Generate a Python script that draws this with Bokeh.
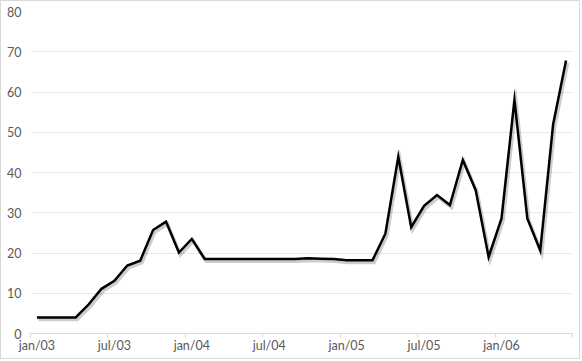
from bokeh.plotting import figure
from bokeh.models import ColumnDataSource, FixedTicker, LinearAxis, Range1d
from bokeh.embed import file_html
from bokeh.resources import INLINE

months = [
    "jan/03", "fev/03", "mar/03", "abr/03", "mai/03", "jun/03",
    "jul/03", "ago/03", "set/03", "out/03", "nov/03", "dez/03",
    "jan/04", "fev/04", "mar/04", "abr/04", "mai/04", "jun/04",
    "jul/04", "ago/04", "set/04", "out/04", "nov/04", "dez/04",
    "jan/05", "fev/05", "mar/05", "abr/05", "mai/05", "jun/05",
    "jul/05", "ago/05", "set/05", "out/05", "nov/05", "dez/05",
    "jan/06", "fev/06", "mar/06", "abr/06", "mai/06", "jun/06",
]
values = [
    4.0, 4.0, 4.0, 4.0, 7.2, 11.1,
    13.1, 16.9, 18.1, 25.7, 27.8, 20.1,
    23.5, 18.5, 18.5, 18.5, 18.5, 18.5,
    18.5, 18.5, 18.5, 18.7, 18.6, 18.5,
    18.2, 18.2, 18.2, 24.8, 43.9, 26.4,
    31.7, 34.4, 31.9, 43.1, 35.6, 19.0,
    28.6, 58.0, 28.6, 20.6, 52.0, 67.8,
]
y_ticks = [0, 10, 20, 30, 40, 50, 60, 70, 80]
label_every = 6

n = len(months)
idx = list(range(n))
src = ColumnDataSource(data=dict(x=idx, y=values,
                                 xs=[i + 0.12 for i in idx],
                                 ys=[v - 0.55 for v in values]))

p = figure(width=580, height=359, output_backend="svg", toolbar_location=None,
           x_range=Range1d(-0.5, n - 0.5), y_range=Range1d(0, 80),
           x_axis_location=None, y_axis_location="left",
           min_border_left=29, min_border_right=9, min_border_top=10, min_border_bottom=27)
p.styles = {"border": "1px solid #d9d9d9"}
p.outline_line_color = None
p.background_fill_color = "white"
p.border_fill_color = "white"

# y axis
p.yaxis.ticker = FixedTicker(ticks=y_ticks)
p.yaxis.axis_line_color = None
p.yaxis.major_tick_line_color = None
p.yaxis.minor_tick_line_color = None
p.yaxis.major_tick_out = 0
p.yaxis.major_tick_in = 0
p.yaxis.major_label_standoff = 9
p.yaxis.major_label_text_font = "Lato"
p.yaxis.major_label_text_font_size = "12.5px"
p.yaxis.major_label_text_color = "#595959"

p.ygrid.ticker = FixedTicker(ticks=y_ticks)
p.ygrid.grid_line_color = "#e8e8e8"
p.ygrid.grid_line_width = 1
p.xgrid.grid_line_color = None

# x axis with tick marks at month boundaries (no labels)
bounds = [i - 0.5 for i in range(0, n, label_every)] + [n - 0.5]
ax_ticks = LinearAxis(ticker=FixedTicker(ticks=bounds),
                      major_label_overrides={b: "" for b in bounds})
ax_ticks.axis_line_color = "#d9d9d9"
ax_ticks.major_tick_line_color = "#d9d9d9"
ax_ticks.major_tick_out = 4
ax_ticks.major_tick_in = 0
ax_ticks.minor_tick_line_color = None
ax_ticks.major_label_standoff = 0
p.add_layout(ax_ticks, "below")

# x axis labels at month centers
label_pos = list(range(0, n, label_every))
ax_labels = LinearAxis(ticker=FixedTicker(ticks=label_pos),
                       major_label_overrides={i: months[i] for i in label_pos})
ax_labels.axis_line_color = None
ax_labels.major_tick_line_color = None
ax_labels.minor_tick_line_color = None
ax_labels.major_tick_out = 0
ax_labels.major_tick_in = 0
ax_labels.major_label_standoff = 0
ax_labels.major_label_text_font = "Lato"
ax_labels.major_label_text_font_size = "12.5px"
ax_labels.major_label_text_color = "#595959"
p.add_layout(ax_labels, "below")

# shadow and line
p.line("xs", "ys", source=src, line_color="black", line_alpha=0.2, line_width=3.5,
       line_join="miter")
p.line("x", "y", source=src, line_color="black", line_width=2.5, line_join="miter")

open("out.html", "w").write(file_html(p, INLINE))
